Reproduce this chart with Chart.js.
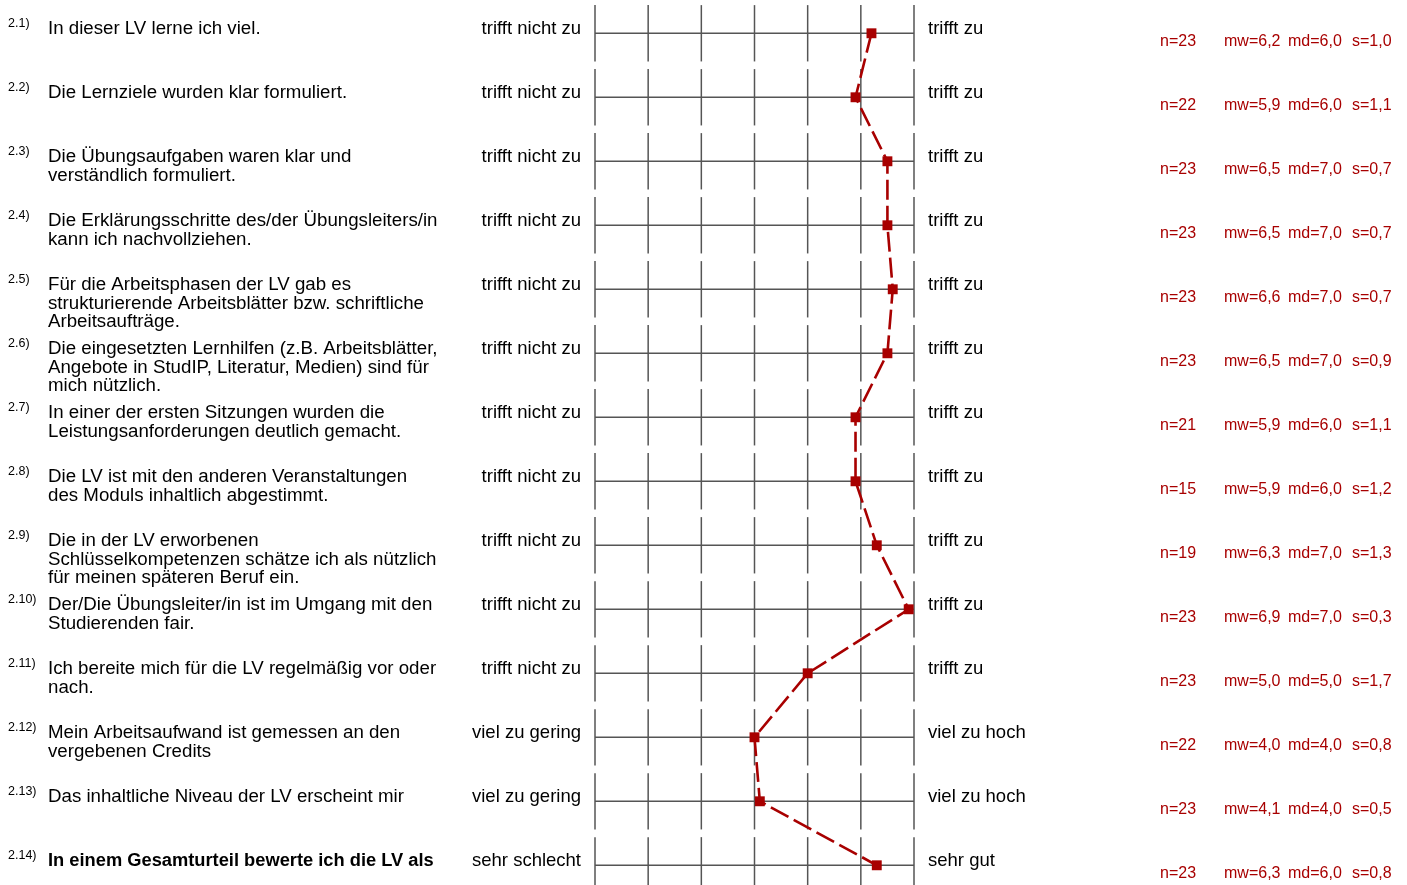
<!DOCTYPE html>
<html>
<head>
<meta charset="utf-8">
<script src="https://cdn.jsdelivr.net/npm/chart.js@4/dist/chart.umd.min.js"></script>
<style>
  body { margin: 0; background: #fff; }
  #wrap { width: 1407px; height: 885px; }
</style>
</head>
<body>
<div id="wrap"><canvas id="profile" width="1407" height="885"></canvas></div>
<script>
const numbers = ['2.1)', '2.2)', '2.3)', '2.4)', '2.5)', '2.6)', '2.7)', '2.8)', '2.9)', '2.10)', '2.11)', '2.12)', '2.13)', '2.14)'];
const questions = [
    ['In dieser LV lerne ich viel.'],
    ['Die Lernziele wurden klar formuliert.'],
    ['Die Übungsaufgaben waren klar und', 'verständlich formuliert.'],
    ['Die Erklärungsschritte des/der Übungsleiters/in', 'kann ich nachvollziehen.'],
    ['Für die Arbeitsphasen der LV gab es', 'strukturierende Arbeitsblätter bzw. schriftliche', 'Arbeitsaufträge.'],
    ['Die eingesetzten Lernhilfen (z.B. Arbeitsblätter,', 'Angebote in StudIP, Literatur, Medien) sind für', 'mich nützlich.'],
    ['In einer der ersten Sitzungen wurden die', 'Leistungsanforderungen deutlich gemacht.'],
    ['Die LV ist mit den anderen Veranstaltungen', 'des Moduls inhaltlich abgestimmt.'],
    ['Die in der LV erworbenen', 'Schlüsselkompetenzen schätze ich als nützlich', 'für meinen späteren Beruf ein.'],
    ['Der/Die Übungsleiter/in ist im Umgang mit den', 'Studierenden fair.'],
    ['Ich bereite mich für die LV regelmäßig vor oder', 'nach.'],
    ['Mein Arbeitsaufwand ist gemessen an den', 'vergebenen Credits'],
    ['Das inhaltliche Niveau der LV erscheint mir'],
    ['In einem Gesamturteil bewerte ich die LV als']
];
const leftPoles = ['trifft nicht zu', 'trifft nicht zu', 'trifft nicht zu', 'trifft nicht zu', 'trifft nicht zu', 'trifft nicht zu', 'trifft nicht zu',
    'trifft nicht zu', 'trifft nicht zu', 'trifft nicht zu', 'trifft nicht zu', 'viel zu gering', 'viel zu gering', 'sehr schlecht'];
const rightPoles = ['trifft zu', 'trifft zu', 'trifft zu', 'trifft zu', 'trifft zu', 'trifft zu', 'trifft zu',
    'trifft zu', 'trifft zu', 'trifft zu', 'trifft zu', 'viel zu hoch', 'viel zu hoch', 'sehr gut'];
const nValues = [23, 22, 23, 23, 23, 23, 21, 15, 19, 23, 23, 22, 23, 23];
const means = [6.2, 5.9, 6.5, 6.5, 6.6, 6.5, 5.9, 5.9, 6.3, 6.9, 5.0, 4.0, 4.1, 6.3];
const medians = [6.0, 6.0, 7.0, 7.0, 7.0, 7.0, 6.0, 6.0, 7.0, 7.0, 5.0, 4.0, 4.0, 6.0];
const stdDevs = [1.0, 1.1, 0.7, 0.7, 0.7, 0.9, 1.1, 1.2, 1.3, 0.3, 1.7, 0.8, 0.5, 0.8];
const scaleSteps = [1, 2, 3, 4, 5, 6, 7];

const red = '#a80000';
const gridColor = '#555';
const font = '"Liberation Sans", Arial, sans-serif';
const de = v => v.toFixed(1).replace('.', ',');

// draws the row grid and all the texts, positioned through the chart scales
const profilePlugin = {
    id: 'profile',
    beforeDatasetsDraw(chart) {
        const ctx = chart.ctx;
        const xs = chart.scales.x, ys = chart.scales.y;
        ctx.save();
        ctx.strokeStyle = gridColor;
        ctx.lineWidth = 1.5;
        means.forEach((m, i) => {
            const y = ys.getPixelForValue(i);
            ctx.beginPath();
            ctx.moveTo(xs.getPixelForValue(1), y);
            ctx.lineTo(xs.getPixelForValue(7), y);
            ctx.stroke();
            scaleSteps.forEach(s => {
                const x = xs.getPixelForValue(s);
                ctx.beginPath();
                ctx.moveTo(x, ys.getPixelForValue(i - 0.44));
                ctx.lineTo(x, ys.getPixelForValue(i + 0.44));
                ctx.stroke();
            });
        });
        ctx.restore();
    },
    afterDraw(chart) {
        const ctx = chart.ctx;
        const ys = chart.scales.y;
        ctx.save();
        ctx.textBaseline = 'alphabetic';
        means.forEach((m, i) => {
            const y = ys.getPixelForValue(i);
            const base = y + 1;
            ctx.fillStyle = '#000';
            ctx.textAlign = 'left';
            ctx.font = '12.5px ' + font;
            ctx.fillText(numbers[i], 8, base - 7);
            ctx.font = i === 13 ? 'bold 18.3px ' + font : '18.7px ' + font;
            questions[i].forEach((line, k) => ctx.fillText(line, 48, base + k * 18.5));
            ctx.font = '18.5px ' + font;
            ctx.textAlign = 'right';
            ctx.fillText(leftPoles[i], 581, base);
            ctx.textAlign = 'left';
            ctx.fillText(rightPoles[i], 928, base);
            ctx.fillStyle = red;
            ctx.font = '16px ' + font;
            const sb = y + 13;
            ctx.fillText('n=' + nValues[i], 1160, sb);
            ctx.fillText('mw=' + de(m), 1224, sb);
            ctx.fillText('md=' + de(medians[i]), 1288, sb);
            ctx.fillText('s=' + de(stdDevs[i]), 1352, sb);
        });
        ctx.restore();
    }
};

const ctx = document.getElementById('profile').getContext('2d');
new Chart(ctx, {
    type: 'scatter',
    data: {
        datasets: [{
            label: 'Mittelwert',
            data: means.map((m, i) => ({ x: m, y: i })),
            showLine: true,
            borderColor: red,
            borderWidth: 2.6,
            borderDash: [20, 6],
            backgroundColor: red,
            pointStyle: 'rect',
            pointRadius: 7,
            pointBorderWidth: 0,
            pointBackgroundColor: red,
            clip: false
        }]
    },
    plugins: [profilePlugin],
    options: {
        responsive: false,
        animation: false,
        layout: { autoPadding: false, padding: { left: 595, right: 493, top: 0, bottom: 0 } },
        plugins: { legend: { display: false }, tooltip: { enabled: false } },
        scales: {
            x: { type: 'linear', min: 1, max: 7, display: false },
            y: { type: 'linear', reverse: true, min: -0.52, max: 13.308, display: false }
        }
    }
});
</script>
</body>
</html>
